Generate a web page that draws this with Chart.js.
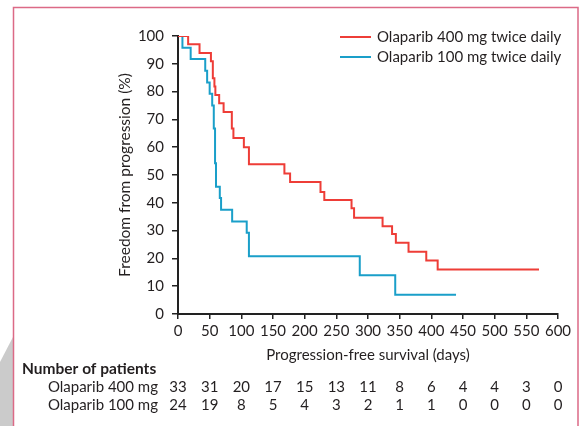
<!DOCTYPE html>
<html><head><meta charset="utf-8">
<script src="https://cdn.jsdelivr.net/npm/chart.js@4.4.0/dist/chart.umd.min.js"></script>
<style>html,body{margin:0;padding:0;background:#fff;}#wrap{width:580px;height:426px;position:relative;}</style>
</head><body><div id="wrap"><canvas id="c" width="580" height="426"></canvas></div>
<script>
// ---- data ----
const xTicks = [0, 50, 100, 150, 200, 250, 300, 350, 400, 450, 500, 550, 600];
const yTicks = [0, 10, 20, 30, 40, 50, 60, 70, 80, 90, 100];
const seriesNames = ['Olaparib 400 mg twice daily', 'Olaparib 100 mg twice daily'];
const days400 = [0, 16, 34, 52, 55, 57.5, 59, 65, 72, 85, 87.5, 104, 112, 168, 177, 225, 231, 274, 278, 323, 338, 344, 364, 392, 410, 570];
const pfs400  = [100, 97.0, 93.9, 90.9, 84.8, 81.8, 78.8, 75.8, 72.7, 66.7, 63.3, 60.0, 53.9, 50.5, 47.5, 43.9, 41.0, 38.0, 34.6, 31.6, 28.8, 25.6, 22.4, 19.2, 16.0, 16.0];
const days100 = [0, 7, 20, 43, 46, 50, 54, 56.5, 58.5, 60, 66, 68, 85.5, 108.5, 112, 287, 343, 439];
const pfs100  = [100, 95.8, 91.7, 87.5, 83.3, 79.2, 75.0, 66.7, 54.2, 45.8, 41.7, 37.5, 33.3, 29.2, 20.8, 13.9, 6.9, 6.9];
const riskTitle = 'Number of patients';
const riskLabels = ['Olaparib 400 mg', 'Olaparib 100 mg'];
const risk400 = [33, 31, 20, 17, 15, 13, 11, 8, 6, 4, 4, 3, 0];
const risk100 = [24, 19, 8, 5, 4, 3, 2, 1, 1, 0, 0, 0, 0];

// ---- style ----
const RED = '#ee3d37', BLUE = '#1a9fc9', INK = '#231f20', AX = '#222222';
const FAM = 'Lato, "Noto Sans", sans-serif';
Chart.defaults.font.family = FAM;
Chart.defaults.font.size = 15;
Chart.defaults.color = INK;

const decor = {
  id: 'decor',
  beforeDraw(chart) {
    const c = chart.ctx;
    c.save();
    c.fillStyle = '#cbcbcb';
    c.beginPath(); c.moveTo(13, 337); c.lineTo(0, 362); c.lineTo(0, 426); c.lineTo(13, 426); c.closePath(); c.fill();
    c.strokeStyle = '#dc6a86'; c.lineWidth = 1.5;
    c.beginPath(); c.moveTo(13.5, 426); c.lineTo(13.5, 7.5); c.lineTo(578, 7.5); c.lineTo(578, 426); c.stroke();
    c.restore();
  },
  afterDraw(chart) {
    const c = chart.ctx, xs = chart.scales.x;
    c.save();
    const cols = [RED, BLUE];
    const ly = [37, 57];
    c.font = '15px ' + FAM; c.textBaseline = 'middle'; c.textAlign = 'left';
    seriesNames.forEach((n, i) => {
      c.strokeStyle = cols[i]; c.lineWidth = 2;
      c.beginPath(); c.moveTo(340, ly[i]); c.lineTo(371, ly[i]); c.stroke();
      c.fillStyle = INK; c.fillText(n, 377, ly[i]);
    });
    c.font = 'bold 15.5px ' + FAM; c.textAlign = 'left';
    c.fillText(riskTitle, 22, 369);
    c.font = '15px ' + FAM;
    const rows = [risk400, risk100], ry = [387, 405];
    rows.forEach((r, j) => {
      c.textAlign = 'right'; c.fillText(riskLabels[j], 158, ry[j]);
      c.textAlign = 'center';
      r.forEach((v, i) => c.fillText(String(v), xs.getPixelForValue(xTicks[i]), ry[j]));
    });
    c.restore();
  }
};

new Chart(document.getElementById('c'), {
  type: 'line',
  data: { datasets: [
    { label: seriesNames[0], data: days400.map((d, i) => ({ x: d, y: pfs400[i] })), borderColor: RED, borderWidth: 2, stepped: true, pointRadius: 0, fill: false },
    { label: seriesNames[1], data: days100.map((d, i) => ({ x: d, y: pfs100[i] })), borderColor: BLUE, borderWidth: 2, stepped: true, pointRadius: 0, fill: false }
  ]},
  options: {
    responsive: false, animation: false, devicePixelRatio: 1,
    layout: { padding: { top: 36, right: 22, left: 0, bottom: 0 } },
    plugins: { legend: { display: false }, tooltip: { enabled: false } },
    scales: {
      x: {
        type: 'linear', min: 0, max: 600,
        afterBuildTicks: s => { s.ticks = xTicks.map(v => ({ value: v })); },
        grid: { drawOnChartArea: false, drawTicks: true, tickLength: 5, color: AX, lineWidth: 1.5 },
        border: { color: AX, width: 2 },
        ticks: { padding: 3, color: INK, maxRotation: 0, autoSkip: false },
        title: { display: true, text: 'Progression-free survival (days)', color: INK, padding: { top: 0, bottom: 62 } },
        afterFit: s => { s.height = 112; }
      },
      y: {
        type: 'linear', min: 0, max: 100,
        afterBuildTicks: s => { s.ticks = yTicks.map(v => ({ value: v })); },
        grid: { drawOnChartArea: false, drawTicks: true, tickLength: 6, color: AX, lineWidth: 1.5 },
        border: { color: AX, width: 2 },
        ticks: { padding: 8, color: INK },
        title: { display: true, text: 'Freedom from progression (%)', color: INK, font: { size: 15.5 }, padding: { top: 116, bottom: 0 } },
        afterFit: s => { s.width = 178; }
      }
    }
  },
  plugins: [decor]
});
</script>
</body></html>
